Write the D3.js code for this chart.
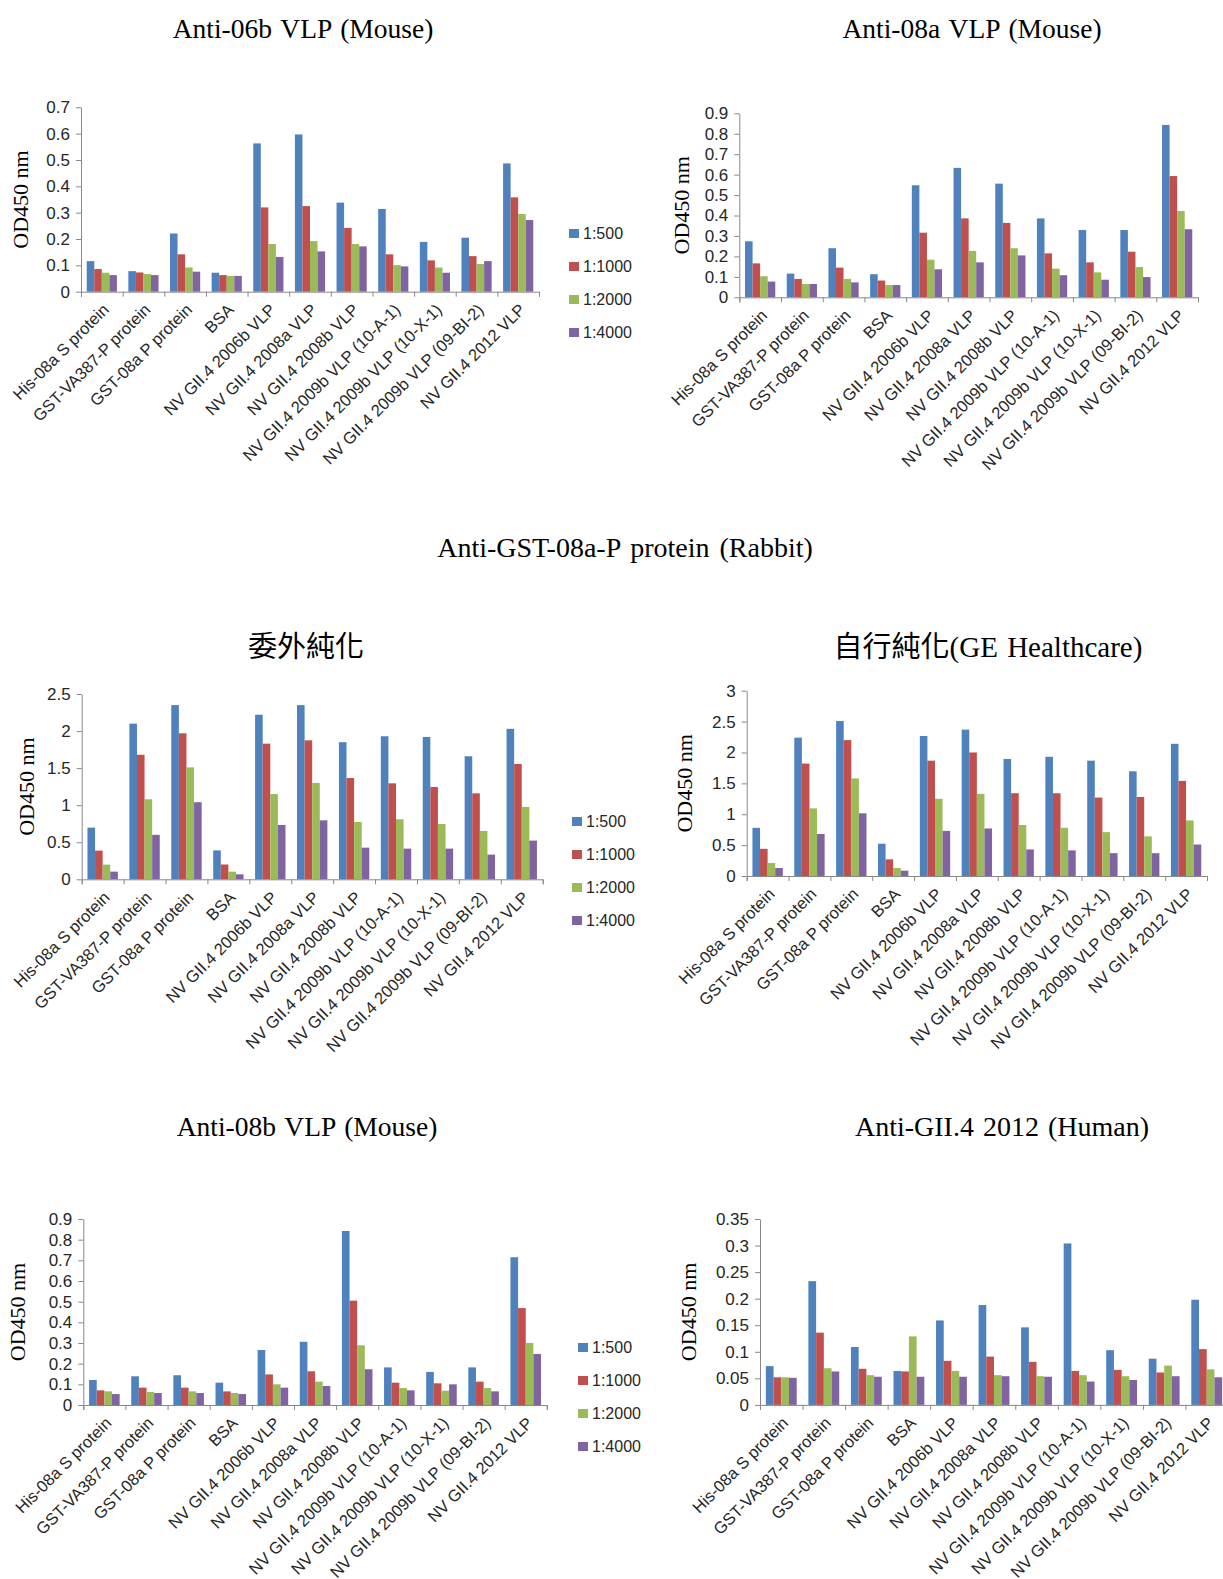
<!DOCTYPE html>
<html>
<head>
<meta charset="utf-8">
<script src="https://cdn.jsdelivr.net/npm/d3@7"></script>
<style>
  html, body { margin: 0; padding: 0; background: #fff; }
  svg { display: block; }
</style>
</head>
<body>
<svg id="fig" width="1223" height="1579"></svg>
<script>
// Antigen panel tested in every ELISA plate
const categories = [
  "His-08a S protein",
  "GST-VA387-P protein",
  "GST-08a P protein",
  "BSA",
  "NV GII.4 2006b VLP",
  "NV GII.4 2008a VLP",
  "NV GII.4 2008b VLP",
  "NV GII.4 2009b VLP (10-A-1)",
  "NV GII.4 2009b VLP (10-X-1)",
  "NV GII.4 2009b VLP (09-BI-2)",
  "NV GII.4 2012 VLP"
];

// Serum dilutions (one bar per dilution in each group)
const dilutions = ["1:500", "1:1000", "1:2000", "1:4000"];
const dilutionColors = ["#4F81BD", "#C0504D", "#9BBB59", "#8064A2"];

// OD450 readings, one row per dilution, one column per antigen
const anti06bMouse = [
  [0.116, 0.078, 0.221, 0.072, 0.563, 0.597, 0.338, 0.314, 0.189, 0.205, 0.487],
  [0.086, 0.073, 0.142, 0.063, 0.320, 0.325, 0.242, 0.142, 0.119, 0.135, 0.358],
  [0.072, 0.067, 0.092, 0.060, 0.181, 0.192, 0.181, 0.101, 0.092, 0.105, 0.295],
  [0.063, 0.063, 0.076, 0.060, 0.132, 0.153, 0.172, 0.096, 0.072, 0.116, 0.272]
];
const anti08aMouse = [
  [0.274, 0.116, 0.240, 0.113, 0.548, 0.633, 0.556, 0.386, 0.329, 0.329, 0.843],
  [0.166, 0.090, 0.145, 0.082, 0.316, 0.386, 0.364, 0.215, 0.171, 0.223, 0.593],
  [0.103, 0.065, 0.090, 0.060, 0.184, 0.227, 0.240, 0.140, 0.122, 0.148, 0.422],
  [0.077, 0.065, 0.073, 0.060, 0.137, 0.171, 0.205, 0.108, 0.086, 0.099, 0.333]
];
const rabbitOutsourced = [
  [0.697, 2.100, 2.350, 0.390, 2.220, 2.350, 1.850, 1.930, 1.920, 1.660, 2.030],
  [0.387, 1.680, 1.970, 0.200, 1.830, 1.875, 1.367, 1.295, 1.245, 1.160, 1.556],
  [0.198, 1.080, 1.510, 0.103, 1.150, 1.300, 0.773, 0.810, 0.746, 0.652, 0.976],
  [0.103, 0.600, 1.040, 0.067, 0.733, 0.796, 0.427, 0.414, 0.414, 0.333, 0.522]
];
const rabbitInHouse = [
  [0.780, 2.240, 2.510, 0.523, 2.267, 2.370, 1.894, 1.930, 1.867, 1.695, 2.140],
  [0.440, 1.820, 2.200, 0.270, 1.867, 2.000, 1.340, 1.340, 1.270, 1.280, 1.540],
  [0.210, 1.095, 1.580, 0.130, 1.250, 1.330, 0.826, 0.780, 0.710, 0.642, 0.900],
  [0.130, 0.680, 1.015, 0.086, 0.730, 0.770, 0.430, 0.415, 0.370, 0.370, 0.510]
];
const anti08bMouse = [
  [0.121, 0.139, 0.144, 0.108, 0.266, 0.306, 0.842, 0.182, 0.160, 0.182, 0.715],
  [0.071, 0.084, 0.084, 0.066, 0.148, 0.163, 0.505, 0.108, 0.105, 0.113, 0.469],
  [0.066, 0.063, 0.066, 0.058, 0.100, 0.113, 0.289, 0.082, 0.069, 0.082, 0.300],
  [0.053, 0.058, 0.058, 0.053, 0.084, 0.092, 0.173, 0.071, 0.100, 0.066, 0.247]
];
const antiGII4Human = [
  [0.073, 0.233, 0.109, 0.064, 0.159, 0.188, 0.146, 0.304, 0.103, 0.087, 0.198],
  [0.052, 0.136, 0.068, 0.063, 0.083, 0.091, 0.081, 0.064, 0.066, 0.061, 0.105],
  [0.052, 0.069, 0.056, 0.129, 0.064, 0.056, 0.054, 0.056, 0.054, 0.074, 0.067],
  [0.051, 0.063, 0.053, 0.053, 0.053, 0.054, 0.053, 0.044, 0.047, 0.054, 0.052]
];

// Y-axis tick values for each chart
const ticks06b = [0, 0.1, 0.2, 0.3, 0.4, 0.5, 0.6, 0.7];
const ticks08a = [0, 0.1, 0.2, 0.3, 0.4, 0.5, 0.6, 0.7, 0.8, 0.9];
const ticksOutsourced = [0, 0.5, 1, 1.5, 2, 2.5];
const ticksInHouse = [0, 0.5, 1, 1.5, 2, 2.5, 3];
const ticks08b = [0, 0.1, 0.2, 0.3, 0.4, 0.5, 0.6, 0.7, 0.8, 0.9];
const ticksHuman = [0, 0.05, 0.1, 0.15, 0.2, 0.25, 0.3, 0.35];

const yTitle = "OD450 nm";
const sectionTitle = "Anti-GST-08a-P protein (Rabbit)";

const SANS = "'Liberation Sans', Arial, sans-serif";
const SERIF = "'Liberation Serif', 'Times New Roman', serif";
const CJK_SERIF = "'Liberation Serif', 'Noto Sans CJK TC', serif";
const AXIS_GREY = "#888888";
const TEXT = "#262626";

const svg = d3.select("#fig");

// Chart frames: plot rectangle, title and legend placement
const panels = [
  { data: anti06bMouse, ticks: ticks06b, title: "Anti-06b VLP (Mouse)",
    x0: 81, x1: 539, yTop: 107.3, yBase: 291.7,
    titleX: 303, titleY: 38, titleSize: 27.5, yLabX: 20, legend: { x: 569, y: 229 } },
  { data: anti08aMouse, ticks: ticks08a, title: "Anti-08a VLP (Mouse)",
    x0: 739.3, x1: 1198, yTop: 113.3, yBase: 297.3,
    titleX: 972, titleY: 38, titleSize: 27.5, yLabX: 681, legend: null },
  { data: rabbitOutsourced, ticks: ticksOutsourced, title: "委外純化",
    x0: 81.7, x1: 542.7, yTop: 694, yBase: 879.3,
    titleX: 306, titleY: 657, titleSize: 29, yLabX: 26, legend: { x: 572, y: 817 } },
  { data: rabbitInHouse, ticks: ticksInHouse, title: "自行純化(GE Healthcare)",
    x0: 746.7, x1: 1207, yTop: 690.7, yBase: 876,
    titleX: 988, titleY: 657, titleSize: 29, yLabX: 684, legend: null },
  { data: anti08bMouse, ticks: ticks08b, title: "Anti-08b VLP (Mouse)",
    x0: 83.3, x1: 546.8, yTop: 1219, yBase: 1405,
    titleX: 307, titleY: 1136, titleSize: 27.5, yLabX: 17, legend: { x: 578, y: 1343 } },
  { data: antiGII4Human, ticks: ticksHuman, title: "Anti-GII.4 2012 (Human)",
    x0: 760, x1: 1228, yTop: 1219, yBase: 1404.9,
    titleX: 1002, titleY: 1136, titleSize: 28, yLabX: 688, legend: null }
];

function drawPanel(p) {
  const g = svg.append("g");

  const y = d3.scaleLinear()
    .domain([0, p.ticks[p.ticks.length - 1]])
    .range([p.yBase, p.yTop]);

  const xGroup = d3.scaleBand()
    .domain(categories)
    .range([p.x0, p.x1])
    .paddingInner(0.275)
    .paddingOuter(0.1375);

  const xBar = d3.scaleBand()
    .domain(dilutions)
    .range([0, xGroup.bandwidth()]);

  // category boundary tick marks along the baseline
  const xEdges = d3.scaleLinear().domain([0, categories.length]).range([p.x0, p.x1]);

  // bars
  const groups = g.append("g").selectAll("g")
    .data(categories)
    .join("g")
    .attr("transform", c => `translate(${xGroup(c)},0)`);

  groups.selectAll("rect")
    .data((c, ci) => dilutions.map((d, di) => ({ d, di, v: p.data[di][ci] })))
    .join("rect")
    .attr("x", e => xBar(e.d))
    .attr("width", xBar.bandwidth())
    .attr("y", e => y(e.v))
    .attr("height", e => y(0) - y(e.v))
    .attr("fill", e => dilutionColors[e.di]);

  // y axis
  const yAxis = g.append("g")
    .attr("transform", `translate(${p.x0},0)`)
    .call(d3.axisLeft(y).tickValues(p.ticks).tickFormat(d => String(d))
      .tickSize(5).tickSizeOuter(0).tickPadding(6));
  yAxis.select(".domain").attr("stroke", AXIS_GREY);
  yAxis.selectAll(".tick line").attr("stroke", AXIS_GREY);
  yAxis.selectAll(".tick text")
    .attr("fill", TEXT)
    .style("font-family", SANS)
    .style("font-size", "17px");

  // x axis (baseline with boundary ticks)
  const xAxis = g.append("g")
    .attr("transform", `translate(0,${p.yBase})`)
    .call(d3.axisBottom(xEdges).ticks(categories.length).tickFormat("")
      .tickSize(5).tickSizeOuter(5));
  xAxis.select(".domain").attr("stroke", AXIS_GREY);
  xAxis.selectAll(".tick line").attr("stroke", AXIS_GREY);

  // slanted category labels
  g.append("g").selectAll("text")
    .data(categories)
    .join("text")
    .attr("transform", c =>
      `translate(${xGroup(c) + xGroup.bandwidth() / 2 + 4},${p.yBase + 15}) rotate(-45)`)
    .attr("text-anchor", "end")
    .attr("dy", "0.35em")
    .attr("fill", TEXT)
    .style("font-family", SANS)
    .style("font-size", "16.5px")
    .text(c => c);

  // y axis title
  g.append("text")
    .attr("transform", `translate(${p.yLabX},${(p.yTop + p.yBase) / 2}) rotate(-90)`)
    .attr("text-anchor", "middle")
    .attr("dy", "0.35em")
    .attr("fill", "#000")
    .style("font-family", SERIF)
    .style("font-size", "22px")
    .text(yTitle);

  // chart title
  g.append("text")
    .attr("x", p.titleX)
    .attr("y", p.titleY)
    .attr("text-anchor", "middle")
    .attr("fill", "#000")
    .style("font-family", CJK_SERIF)
    .style("font-size", p.titleSize + "px")
    .style("word-spacing", "2px")
    .text(p.title);

  // legend
  if (p.legend) {
    const lg = g.append("g")
      .attr("transform", `translate(${p.legend.x},${p.legend.y})`);
    const items = lg.selectAll("g")
      .data(dilutions)
      .join("g")
      .attr("transform", (d, i) => `translate(0,${i * 33})`);
    items.append("rect")
      .attr("width", 10).attr("height", 9)
      .attr("fill", (d, i) => dilutionColors[i]);
    items.append("text")
      .attr("x", 14).attr("y", 10)
      .attr("fill", TEXT)
      .style("font-family", SANS)
      .style("font-size", "16px")
      .text(d => d);
  }
}

panels.forEach(drawPanel);

// heading for the two rabbit serum charts
svg.append("text")
  .attr("x", 625)
  .attr("y", 557)
  .attr("text-anchor", "middle")
  .attr("fill", "#000")
  .style("font-family", SERIF)
  .style("font-size", "28px")
  .style("word-spacing", "3px")
  .text(sectionTitle);
</script>
</body>
</html>
